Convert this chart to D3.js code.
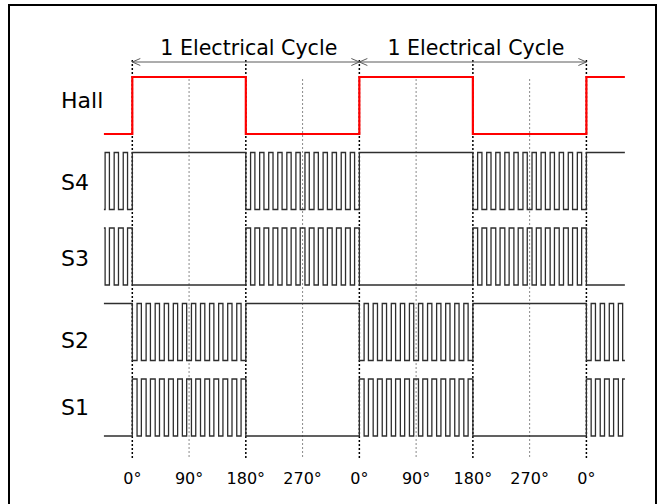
<!DOCTYPE html>
<html>
<head>
<meta charset="utf-8">
<script src="https://cdn.jsdelivr.net/npm/d3@7"></script>
<style>
  html, body { margin: 0; padding: 0; background: #fff; }
  svg { display: block; }
  text { font-family: "DejaVu Sans", Verdana, sans-serif; fill: #000; }
</style>
</head>
<body>
<svg id="chart" width="664" height="504"></svg>
<script>
// ---- data ----
const rowNames = ["Hall", "S4", "S3", "S2", "S1"];
// electrical angle (deg) at which each 180° segment starts
const segStarts = [-180, 0, 180, 360, 540, 720];
// state of each row in each segment: "1" high, "0" low, "P" PWM (high pulses), "N" complementary PWM
const hallStates = ["0", "1", "0", "1", "0", "1"];
const s4States   = ["P", "1", "P", "1", "P", "1"];
const s3States   = ["N", "0", "N", "0", "N", "0"];
const s2States   = ["1", "P", "1", "P", "1", "P"];
const s1States   = ["0", "N", "0", "N", "0", "N"];
const pulsesPerSegment = 12;
const pwmDuty = 0.475;
const majorTicks = [0, 180, 360, 540, 720];
const minorTicks = [90, 270, 450, 630];
const tickDegs = [0, 90, 180, 270, 360, 450, 540, 630, 720];
const tickLabels = ["0°", "90°", "180°", "270°", "0°", "90°", "180°", "270°", "0°"];
const cycleFrom = [0, 360];
const cycleTo = [360, 720];
const cycleLabel = "1 Electrical Cycle";
const viewDomain = [-45, 781];

// ---- layout ----
const svg = d3.select("#chart");
const x = d3.scaleLinear().domain([0, 720]).range([132.3, 586.4]);
const y = d3.scaleBand().domain(rowNames).range([77, 436]).paddingInner(0.245).paddingOuter(0);

// frame
svg.append("rect").attr("x", 9).attr("y", 5).attr("width", 647).attr("height", 520)
  .attr("fill", "none").attr("stroke", "#000").attr("stroke-width", 2);

// clip
svg.append("clipPath").attr("id", "clip").append("rect")
  .attr("x", x(viewDomain[0])).attr("y", 0)
  .attr("width", x(viewDomain[1]) - x(viewDomain[0])).attr("height", 504);

// grid lines
svg.append("g").selectAll("line").data(majorTicks).join("line")
  .attr("x1", d => x(d)).attr("x2", d => x(d))
  .attr("y1", 60).attr("y2", 458)
  .attr("stroke", "#000").attr("stroke-width", 1.5).attr("stroke-dasharray", "2,2");
svg.append("g").selectAll("line").data(minorTicks).join("line")
  .attr("x1", d => x(d)).attr("x2", d => x(d))
  .attr("y1", 79).attr("y2", 458)
  .attr("stroke", "#8a8a8a").attr("stroke-width", 1).attr("stroke-dasharray", "2,2");

// waveform builder
function buildWave(states) {
  const pts = [];
  const period = 180 / (pulsesPerSegment + 1 - pwmDuty);
  const hi = period * pwmDuty, lo = period * (1 - pwmDuty);
  states.forEach((s, i) => {
    const a = segStarts[i];
    if (s === "1" || s === "0") {
      pts.push([a, +s]);
    } else {
      const base = s === "P" ? 0 : 1;
      let t = a;
      pts.push([t, base]); t += lo;
      for (let k = 0; k < pulsesPerSegment; k++) {
        pts.push([t, 1 - base]); t += hi;
        pts.push([t, base]); t += lo;
      }
    }
  });
  const last = pts[pts.length - 1];
  pts.push([segStarts[segStarts.length - 1] + 180, last[1]]);
  return pts;
}

const rows = [
  { name: "Hall", states: hallStates, color: "#ff0000", width: 2.2 },
  { name: "S4", states: s4States, color: "#2e2e2e", width: 1.3 },
  { name: "S3", states: s3States, color: "#2e2e2e", width: 1.3 },
  { name: "S2", states: s2States, color: "#2e2e2e", width: 1.3 },
  { name: "S1", states: s1States, color: "#2e2e2e", width: 1.3 }
];

const waves = svg.append("g").attr("clip-path", "url(#clip)");
rows.forEach(r => {
  const top = y(r.name), bot = y(r.name) + y.bandwidth();
  const line = d3.line()
    .x(d => x(d[0]))
    .y(d => d[1] ? top : bot)
    .curve(d3.curveStepAfter);
  waves.append("path")
    .attr("d", line(buildWave(r.states)))
    .attr("fill", "none")
    .attr("stroke", r.color)
    .attr("stroke-width", r.width);
});

// row labels
const labelNudge = { Hall: -6, S4: 1, S3: 1, S2: 8, S1: 0 };
svg.append("g").selectAll("text").data(rowNames).join("text")
  .attr("x", 61)
  .attr("y", d => y(d) + y.bandwidth() / 2 + 8 + labelNudge[d])
  .attr("font-size", 22)
  .text(d => d);

// tick labels
svg.append("g").selectAll("text").data(tickDegs).join("text")
  .attr("x", d => x(d))
  .attr("y", 484)
  .attr("text-anchor", "middle")
  .attr("font-size", 16)
  .text((d, i) => tickLabels[i]);

// cycle arrows
const arrowY = 62;
const ag = svg.append("g");
cycleFrom.forEach((a, i) => {
  const x0 = x(a), x1 = x(cycleTo[i]);
  ag.append("line").attr("x1", x0).attr("x2", x1).attr("y1", arrowY).attr("y2", arrowY)
    .attr("stroke", "#5a5a5a").attr("stroke-width", 1);
  ag.append("path")
    .attr("d", `M${x0 + 8},${arrowY - 3.5}L${x0},${arrowY}L${x0 + 8},${arrowY + 3.5}` +
               `M${x1 - 8},${arrowY - 3.5}L${x1},${arrowY}L${x1 - 8},${arrowY + 3.5}`)
    .attr("fill", "none").attr("stroke", "#5a5a5a").attr("stroke-width", 1);
  ag.append("text")
    .attr("x", (x0 + x1) / 2 + 3)
    .attr("y", 55)
    .attr("text-anchor", "middle")
    .attr("font-size", 22)
    .attr("textLength", 177)
    .attr("lengthAdjust", "spacingAndGlyphs")
    .text(cycleLabel);
});
</script>
</body>
</html>
